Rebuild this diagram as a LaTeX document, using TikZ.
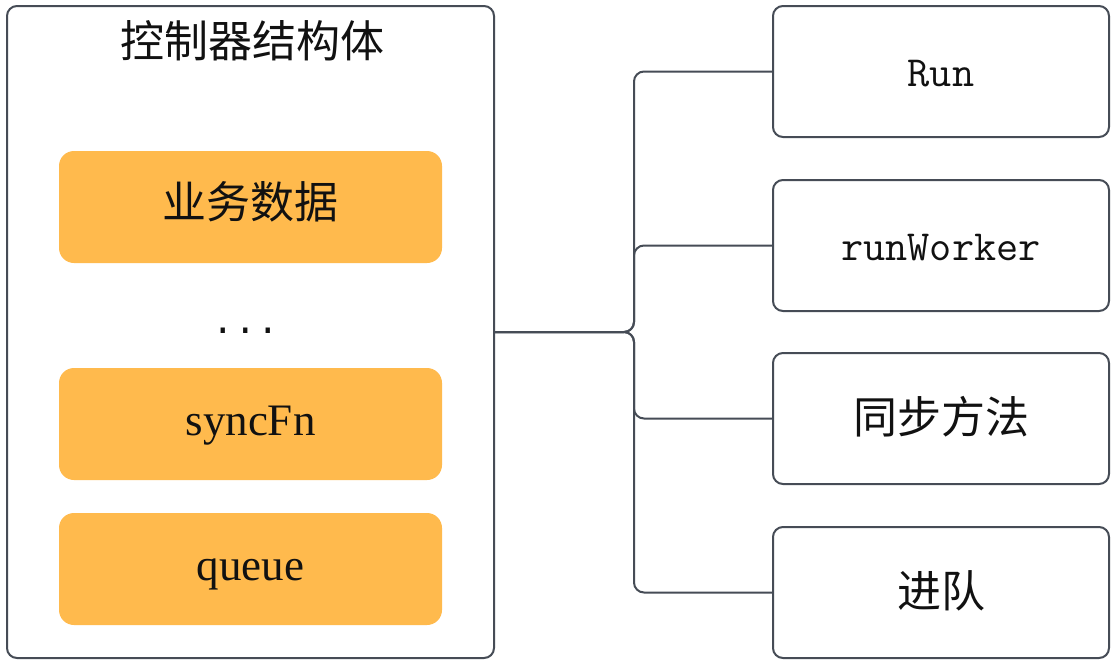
\documentclass[tikz,border=0pt]{standalone}
\usepackage{fontspec}
\newfontfamily\cjk{Noto Sans CJK SC}
\newfontfamily\serifL{Liberation Serif}
\newfontfamily\monoL{Liberation Mono}
\definecolor{edge}{HTML}{464C56}
\definecolor{fillorange}{HTML}{FFBA4D}
\definecolor{ink}{HTML}{111111}
\begin{document}
\begin{tikzpicture}[x=1pt,y=-1pt,
  outerbox/.style={draw=edge,line width=2pt,rounded corners=10pt,fill=white,minimum width=487pt,minimum height=652pt,inner sep=0pt},
  itembox/.style={fill=fillorange,rounded corners=15pt,minimum width=383pt,minimum height=112pt,inner sep=0pt,text=ink,text height=30pt,text depth=8pt},
  funcbox/.style={draw=edge,line width=2pt,rounded corners=10pt,fill=white,minimum width=336pt,minimum height=131pt,inner sep=0pt,text=ink,text height=36pt,text depth=7pt},
  conn/.style={draw=edge,line width=2pt,rounded corners=10pt},
  cjktext/.style={font=\cjk\fontsize{44}{48}\selectfont},
  monotext/.style={font=\ttfamily\fontsize{43}{48}\selectfont},
  serftext/.style={font=\serifL\fontsize{45}{50}\selectfont}
]
\useasboundingbox (0,0) rectangle (1114,664);
\fill[white] (0,0) rectangle (1114,664);
% outer structure
\node[outerbox] (outer) at (250.5,332) {};
\node[cjktext,anchor=base,text=ink,inner sep=0pt] (title) at (252,57) {控制器结构体};
\node[itembox,cjktext] (biz) at (250.5,207) {业务数据};
\node[font=\monoL\fontsize{37.5}{40}\selectfont,anchor=base,text=ink,inner sep=0pt] (dots) at (245.3,333) {...};
\node[itembox,serftext] (sync) at (250.5,424) {syncFn};
\node[itembox,serftext] (queue) at (250.5,569) {queue};
% right boxes
\node[funcbox,monotext] (run) at (941,71.5) {Run};
\node[funcbox,monotext] (worker) at (941,245.5) {runWorker};
\node[funcbox,cjktext] (syncm) at (941,418.5) {同步方法};
\node[funcbox,cjktext] (enq) at (941,592.5) {进队};
% connectors
\coordinate (trunk) at (634,332);
\draw[conn] (outer.east) -- (trunk) |- (run.west);
\draw[conn] (outer.east) -- (trunk) |- (worker.west);
\draw[conn] (outer.east) -- (trunk) |- (syncm.west);
\draw[conn] (outer.east) -- (trunk) |- (enq.west);
\end{tikzpicture}
\end{document}
